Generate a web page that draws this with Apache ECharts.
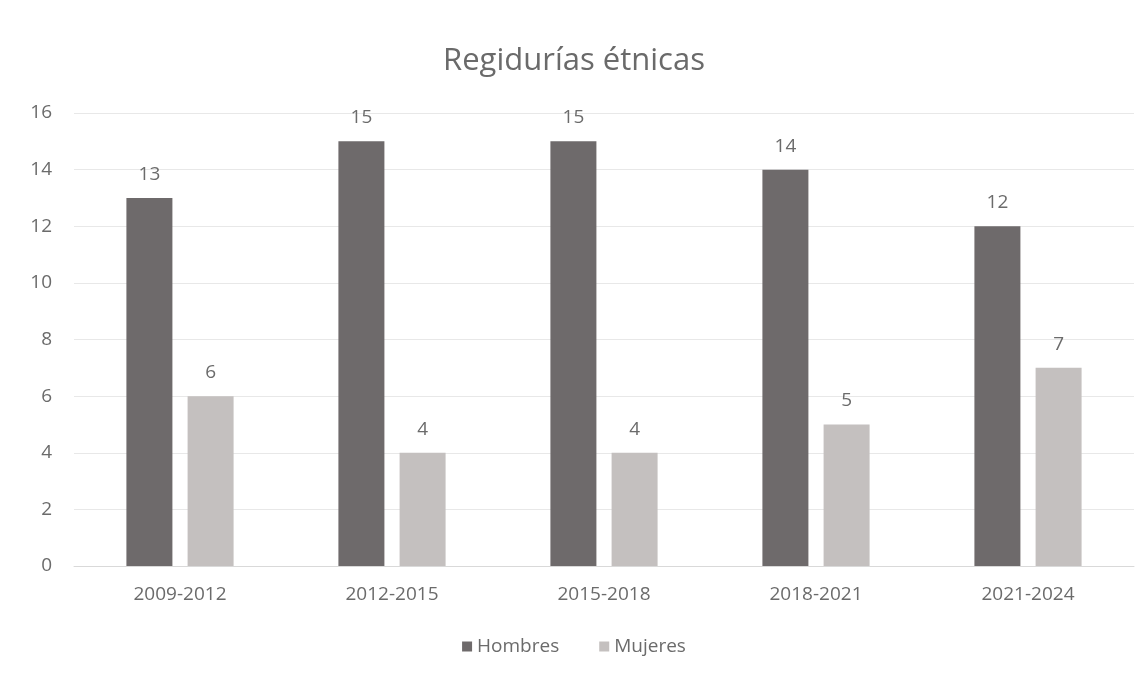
<!DOCTYPE html>
<html><head><meta charset="utf-8">
<script src="https://cdn.jsdelivr.net/npm/echarts@6/dist/echarts.min.js"></script>
<style>html,body{margin:0;padding:0;background:#fff}#c{width:1148px;height:677px}</style>
</head><body><div id="c"></div>
<script>
const categories = ['2009-2012','2012-2015','2015-2018','2018-2021','2021-2024'];
const hombres = [13, 15, 15, 14, 12];
const mujeres = [6, 4, 4, 5, 7];
const yTicks = {min: 0, max: 16, interval: 2};

const chart = echarts.init(document.getElementById('c'));
const font = '"Open Sans", "Noto Sans", sans-serif';
const txt = '#6b6b6b';
chart.setOption({
  animation: false,
  textStyle: {fontFamily: font},
  title: {text: 'Regidurías étnicas', left: 'center', top: 41,
    textStyle: {fontFamily: font, fontSize: 31, fontWeight: 'normal', color: '#6a6a6a'}},
  legend: {bottom: 16, left: 'center', itemWidth: 10, itemHeight: 10, itemGap: 40,
    icon: 'rect', textStyle: {fontFamily: font, fontSize: 19, color: txt},
    data: ['Hombres','Mujeres']},
  grid: {left: 74, right: 14, top: 113, bottom: 111, containLabel: false},
  xAxis: {type: 'category', data: categories,
    axisLine: {lineStyle: {color: '#d9d9d9', width: 1}}, axisTick: {show: false},
    axisLabel: {fontFamily: font, fontSize: 19, color: txt, margin: 19}},
  yAxis: {type: 'value', min: yTicks.min, max: yTicks.max, interval: yTicks.interval,
    axisLine: {show: false}, axisTick: {show: false},
    splitLine: {lineStyle: {color: '#e8e8e8', width: 1}},
    axisLabel: {fontFamily: font, fontSize: 19, color: txt, margin: 22}},
  series: [
    {name: 'Hombres', type: 'bar', data: hombres, barWidth: 46, barGap: '33%',
     itemStyle: {color: '#6e6a6b'},
     label: {show: true, position: 'top', distance: 14, fontFamily: font, fontSize: 19, color: txt}},
    {name: 'Mujeres', type: 'bar', data: mujeres, barWidth: 46,
     itemStyle: {color: '#c4c0bf'},
     label: {show: true, position: 'top', distance: 14, fontFamily: font, fontSize: 19, color: txt}}
  ]
});
</script></body></html>
